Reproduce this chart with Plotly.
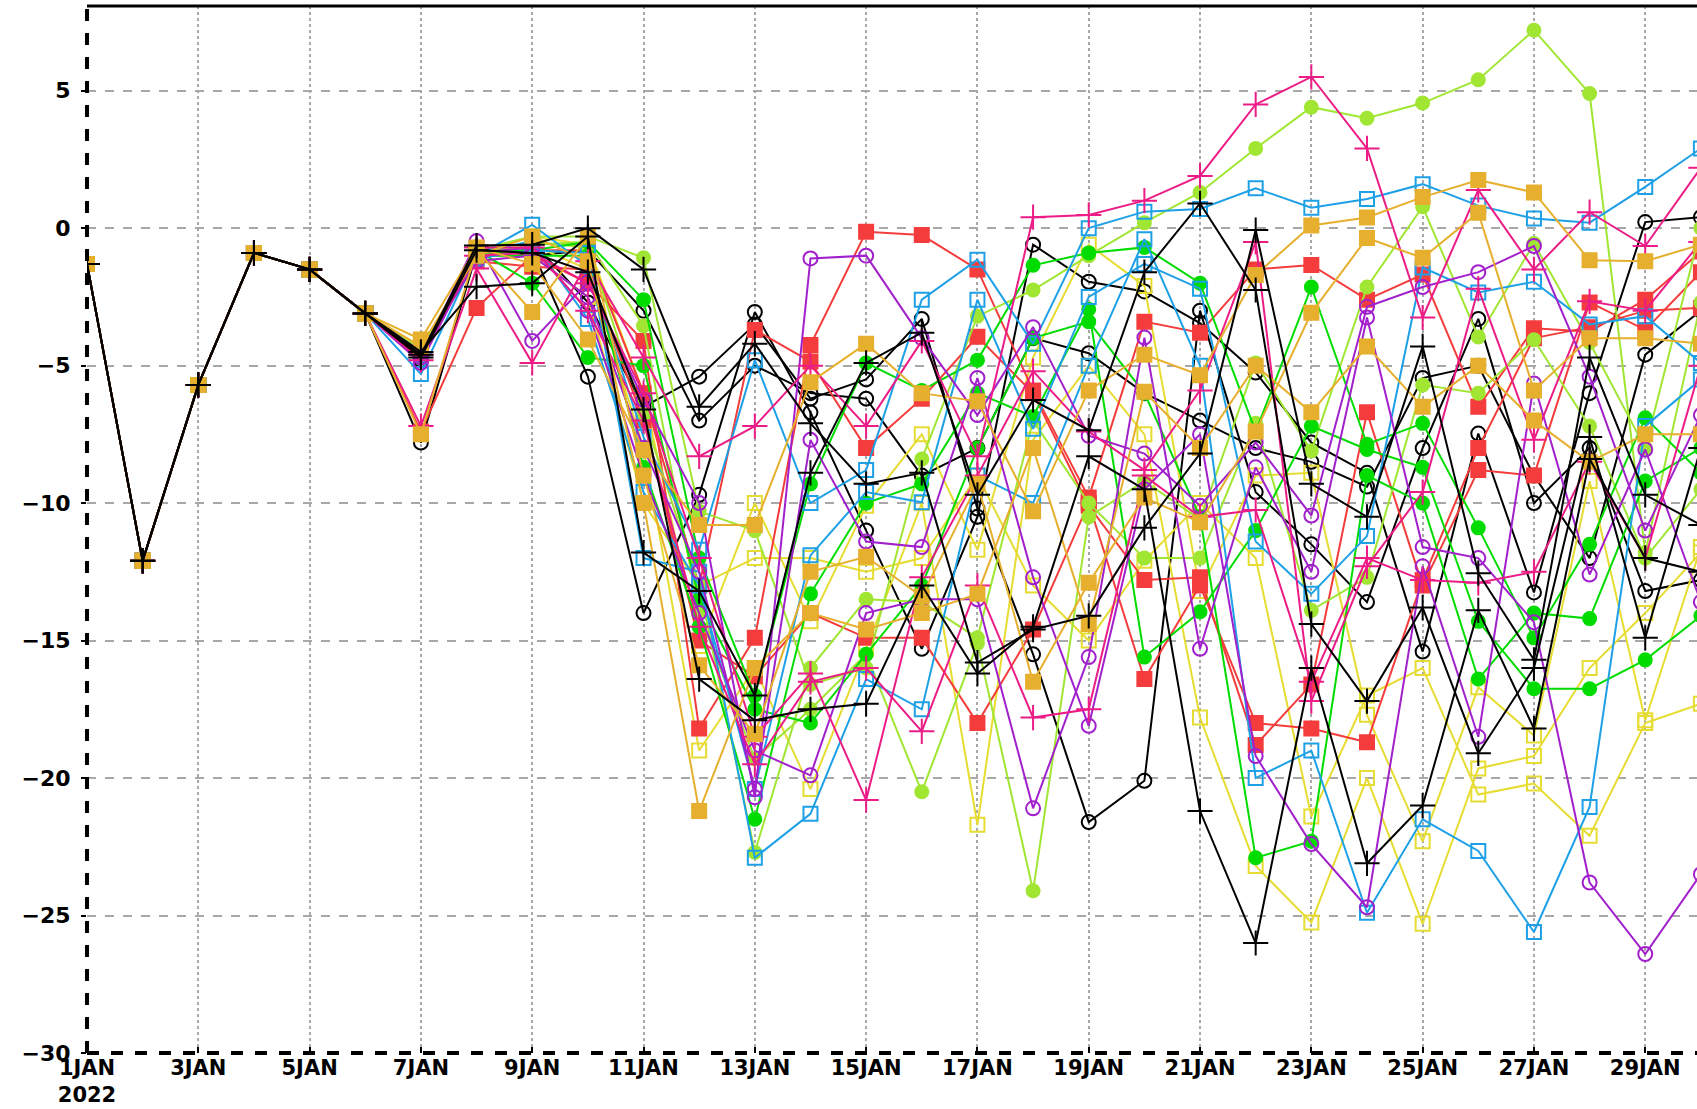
import plotly.graph_objects as go

# days of January 2022
days = list(range(1, 31))
tick_days = list(range(1, 30, 2))
tick_text = ["1JAN<br>2022"] + [f"{d}JAN" for d in tick_days[1:]]
y_ticks = [-30, -25, -20, -15, -10, -5, 0, 5]

# first six days are the same for every member
start = [-1.3, -12.1, -5.7, -0.9, -1.5, -3.1]

# black, open circle
bc1 = start + [-7.8, -0.9, -0.8, -5.4, -14.0, -9.7, -3.05, -6.7, -11.0, -15.3, -10.5, -0.6, -1.95, -2.3, -3.45, -5.25, -7.8, -8.9, -15.4, -7.47, -13.25, -6.0, 0.22, 0.4]
bc2 = start + [-4.6, -1.0, -0.5, -2.7, -6.5, -5.4, -3.5, -6.2, -5.5, -3.3, -10.2, -15.5, -21.6, -20.1, -3.0, -9.6, -11.5, -13.6, -8.0, -3.3, -10.0, -8.0, -13.2, -12.8]
bc3 = start + [-4.8, -0.7, -1.0, -0.8, -3.0, -7.0, -5.0, -6.0, -6.2, -9.0, -8.0, -4.0, -4.55, -6.0, -7.0, -8.0, -8.5, -9.4, -5.45, -5.0, -9.0, -12.0, -4.6, -3.0]
# black, plus
bp1 = start + [-4.6, -0.63, -0.6, 0.0, -1.5, -6.5, -4.2, -7.1, -9.3, -8.9, -15.8, -14.6, -14.1, -10.9, -8.2, -0.07, -9.3, -10.5, -4.3, -12.55, -15.7, -4.7, -9.7, -10.8]
bp2 = start + [-4.5, -2.13, -2.0, -0.3, -11.8, -13.2, -17.0, -8.9, -4.9, -3.8, -9.7, -6.25, -7.35, -1.6, 0.9, -2.25, -14.4, -17.2, -13.8, -19.1, -16.0, -7.6, -14.9, -8.0]
bp3 = start + [-4.7, -0.8, -0.9, -1.6, -6.6, -16.4, -17.9, -17.5, -17.3, -13.0, -16.2, -14.5, -8.3, -9.5, -21.2, -26.0, -16.0, -23.1, -21.0, -13.9, -18.2, -8.4, -12.0, -12.5]
# purple, open circle
pc1 = start + [-4.7, -0.47, -4.1, -1.97, -6.24, -10.0, -20.7, -1.1, -1.0, -4.0, -6.8, -3.6, -7.55, -8.2, -10.1, -7.8, -10.45, -2.86, -2.14, -1.6, -0.65, -5.4, -11.0, -6.8]
pc2 = start + [-4.5, -1.2, -1.0, -2.5, -8.0, -12.5, -20.4, -7.7, -11.4, -11.6, -5.45, -12.7, -18.1, -9.5, -7.5, -19.2, -22.4, -24.7, -12.3, -18.5, -5.65, -12.6, -8.05, -13.6]
pc3 = start + [-4.9, -0.9, -0.7, -3.0, -9.0, -14.0, -19.0, -19.9, -14.0, -13.5, -13.5, -21.1, -15.6, -3.98, -15.3, -8.7, -12.5, -3.25, -11.6, -12.0, -14.33, -23.8, -26.4, -23.5]
# magenta, plus
pp1 = start + [-7.2, -1.47, -4.9, -1.2, -4.7, -8.3, -7.2, -5.0, -7.2, -4.1, -8.3, 0.4, 0.48, 1.0, 1.9, 4.5, 5.5, 2.9, -3.25, 1.39, -1.5, 0.58, -0.65, 2.2]
pp2 = start + [-4.6, -1.0, -0.9, -2.0, -6.0, -12.0, -18.5, -16.2, -20.8, -12.7, -9.0, -5.2, -7.4, -8.8, -5.9, -0.5, -17.2, -12.3, -9.6, -2.2, -7.7, -2.66, -3.0, -0.5]
pp3 = start + [-4.8, -0.7, -0.7, -3.0, -7.0, -14.5, -19.5, -16.5, -16.0, -18.3, -13.0, -17.8, -17.5, -9.0, -10.5, -10.25, -16.5, -12.0, -12.8, -12.9, -12.5, -8.5, -12.0, -5.0]
# yellow-green, filled circle
lc1 = start + [-4.5, -0.8, -0.3, -0.3, -1.08, -10.3, -11.0, -16.6, -16.0, -8.4, -3.2, -2.25, -1.0, 0.2, 1.3, 2.9, 4.4, 4.0, 4.55, 5.4, 7.2, 4.9, -11.8, -2.7]
lc2 = start + [-4.4, -0.9, -0.6, -0.5, -3.55, -14.0, -19.3, -17.5, -15.5, -20.5, -15.1, -24.1, -10.5, -9.2, -10.6, -4.9, -8.1, -2.14, 0.78, -3.96, -0.56, -4.16, -8.0, 0.0]
lc3 = start + [-4.6, -1.0, -0.5, -0.7, -6.8, -13.0, -22.7, -16.0, -13.5, -13.6, -14.9, -7.0, -10.0, -12.0, -12.0, -7.1, -13.9, -12.7, -5.7, -6.0, -4.06, -7.2, -12.0, -9.5]
# green, filled circle
gc1 = start + [-4.5, -0.9, -0.8, -0.5, -2.6, -12.0, -17.0, -9.3, -4.9, -5.9, -4.8, -1.35, -0.9, -0.7, -2.0, -7.4, -2.14, -7.86, -7.1, -10.9, -14.9, -11.5, -6.9, -8.9]
gc2 = start + [-4.7, -1.0, -1.0, -1.0, -8.7, -14.5, -21.5, -13.3, -10.0, -9.3, -6.0, -6.85, -2.95, -15.6, -13.95, -11.0, -7.2, -8.05, -8.7, -14.3, -16.75, -16.75, -15.7, -14.1]
gc3 = start + [-4.6, -0.8, -2.0, -4.7, -5.0, -13.5, -17.5, -18.0, -15.5, -13.0, -8.0, -4.0, -3.4, -6.0, -10.5, -22.9, -22.3, -9.0, -10.0, -16.4, -14.0, -14.2, -9.2, -8.0]
# blue, open square
bs1 = start + [-5.3, -1.0, 0.12, -1.38, -7.6, -11.7, -4.8, -10.0, -8.8, -2.6, -1.15, -4.2, 0.0, 0.6, 0.7, 1.45, 0.74, 1.06, 1.6, 0.82, 0.35, 0.2, 1.5, 2.9]
bs2 = start + [-4.6, -0.9, -0.47, -3.3, -9.6, -13.0, -20.4, -11.9, -9.6, -9.97, -2.6, -7.3, -2.5, -1.3, -2.2, -11.4, -13.3, -11.2, -1.43, -2.34, -1.95, -3.5, -3.2, -4.9]
bs3 = start + [-4.5, -1.1, -0.8, -0.9, -12.0, -12.5, -22.9, -21.3, -16.4, -17.5, -9.0, -10.0, -5.0, -0.4, -5.0, -20.0, -19.0, -24.9, -21.5, -22.65, -25.6, -21.05, -7.2, -5.5]
# gold, filled square
gs1 = start + [-4.05, -0.7, -1.3, -4.05, -8.07, -10.8, -10.8, -5.6, -4.2, -6.0, -6.3, -10.3, -5.9, -4.6, -5.35, -1.7, 0.1, 0.39, 1.13, 1.75, 1.3, -1.17, -1.2, -0.6]
gs2 = start + [-7.5, -0.8, -3.05, -0.3, -9.0, -15.9, -18.4, -12.5, -11.95, -13.4, -9.3, -16.5, -12.9, -9.8, -10.7, -7.4, -3.08, -0.36, -1.08, 0.56, -5.9, -4.0, -4.0, -4.2]
gs3 = start + [-4.3, -1.0, -0.3, -1.2, -10.0, -21.2, -16.0, -14.0, -14.6, -14.0, -13.3, -8.0, -14.4, -5.95, -8.0, -5.0, -6.7, -4.3, -6.5, -5.0, -7.0, -8.5, -7.5, -7.5]
# red, filled square
rs1 = start + [-7.4, -2.9, -1.0, -2.0, -4.1, -18.2, -14.9, -4.25, -0.13, -0.25, -1.5, -5.9, -9.8, -3.4, -3.8, -1.5, -1.34, -2.6, -1.69, -6.5, -3.64, -3.77, -2.6, -0.85]
rs2 = start + [-4.6, -1.0, -0.8, -0.8, -6.0, -13.0, -3.7, -4.85, -8.0, -6.2, -3.95, -6.0, -10.1, -12.8, -12.7, -18.8, -16.6, -6.7, -13.0, -8.8, -9.0, -2.7, -3.7, -1.6]
rs3 = start + [-4.5, -1.2, -1.4, -1.5, -7.0, -15.0, -16.3, -14.0, -14.9, -14.9, -18.0, -14.6, -10.0, -16.4, -13.0, -18.0, -18.2, -18.7, -12.8, -8.0, -4.0, -3.6, -3.0, -2.9]
# yellow, open square
ys1 = start + [-4.4, -0.9, -0.3, -0.6, -6.0, -15.2, -10.0, -14.3, -10.1, -7.5, -11.7, -4.7, -0.6, -2.1, -13.2, -9.0, -8.9, -17.7, -22.3, -16.7, -18.45, -9.2, -17.9, -11.6]
ys2 = start + [-4.5, -0.8, -0.6, -1.5, -8.0, -19.0, -16.0, -20.4, -15.3, -10.0, -21.7, -7.7, -5.0, -7.5, -17.8, -23.2, -25.25, -20.0, -25.3, -19.65, -19.2, -16.0, -14.0, -11.8]
ys3 = start + [-4.6, -1.0, -1.0, -2.5, -10.0, -13.0, -12.0, -12.0, -12.5, -12.0, -9.0, -13.0, -15.0, -12.1, -10.0, -12.0, -21.4, -17.0, -16.0, -20.6, -20.2, -22.1, -18.0, -17.3]

# grads style colours
BLACK = "#000000"
PURPLE = "#a21fcc"
MAGENTA = "#ec1c86"
LIME = "#a0e632"
GREEN = "#00dc00"
BLUE = "#1ea0e6"
GOLD = "#e6af2d"
RED = "#f53c3c"
YELLOW = "#e6dc32"

members = [
    (bc1, BLACK, "circle-open"), (bc2, BLACK, "circle-open"), (bc3, BLACK, "circle-open"),
    (ys1, YELLOW, "square-open"), (ys2, YELLOW, "square-open"), (ys3, YELLOW, "square-open"),
    (rs1, RED, "square"), (rs2, RED, "square"), (rs3, RED, "square"),
    (lc1, LIME, "circle"), (lc2, LIME, "circle"), (lc3, LIME, "circle"),
    (gc1, GREEN, "circle"), (gc2, GREEN, "circle"), (gc3, GREEN, "circle"),
    (bs1, BLUE, "square-open"), (bs2, BLUE, "square-open"), (bs3, BLUE, "square-open"),
    (pc1, PURPLE, "circle-open"), (pc2, PURPLE, "circle-open"), (pc3, PURPLE, "circle-open"),
    (pp1, MAGENTA, "cross-thin"), (pp2, MAGENTA, "cross-thin"), (pp3, MAGENTA, "cross-thin"),
    (gs1, GOLD, "square"), (gs2, GOLD, "square"), (gs3, GOLD, "square"),
    (bp1, BLACK, "cross-thin"), (bp2, BLACK, "cross-thin"), (bp3, BLACK, "cross-thin"),
]

fig = go.Figure()
for vals, col, sym in members:
    size = 18 if sym == "cross-thin" else 14
    if sym == "circle":
        size = 13
    fig.add_trace(go.Scatter(
        x=days, y=vals, mode="lines+markers",
        line=dict(color=col, width=2),
        marker=dict(symbol=sym, size=size, color=col,
                    line=dict(color=col, width=2)),
        showlegend=False))

fig.update_xaxes(range=[1, 29.93], tickvals=tick_days, ticktext=tick_text,
                 showgrid=True, gridcolor="#a8a8a8", griddash="dot", gridwidth=2,
                 zeroline=False, showline=False, ticks="inside", ticklen=6,
                 tickwidth=2, tickcolor="black",
                 tickfont=dict(family="DejaVu Sans", size=21, color="black", weight="bold"),
                 automargin=False)
fig.update_yaxes(range=[-30, 8.08], tickvals=y_ticks,
                 showgrid=True, gridcolor="#a8a8a8", griddash="dash", gridwidth=2,
                 zeroline=False, showline=False, ticks="outside", ticklen=5,
                 tickwidth=2, tickcolor="black", ticklabelstandoff=6,
                 tickfont=dict(family="DejaVu Sans", size=22, color="black", weight="bold"),
                 automargin=False)

# frame drawn like the grads axes: dashed left and bottom, solid top
fig.add_shape(type="line", xref="paper", yref="paper", x0=0, x1=0, y0=0, y1=1,
              line=dict(color="black", width=4, dash="dash"))
fig.add_shape(type="line", xref="paper", yref="paper", x0=0, x1=1, y0=0, y1=0,
              line=dict(color="black", width=4, dash="dash"))
fig.add_shape(type="line", xref="paper", yref="paper", x0=0, x1=1, y0=1, y1=1,
              line=dict(color="black", width=3))

fig.update_layout(width=1697, height=1109,
                  margin=dict(l=87, r=0, t=6, b=56),
                  paper_bgcolor="white", plot_bgcolor="white")

fig.write_html("out.html", config={"displayModeBar": False},
               post_script="document.body.style.margin='0';")
